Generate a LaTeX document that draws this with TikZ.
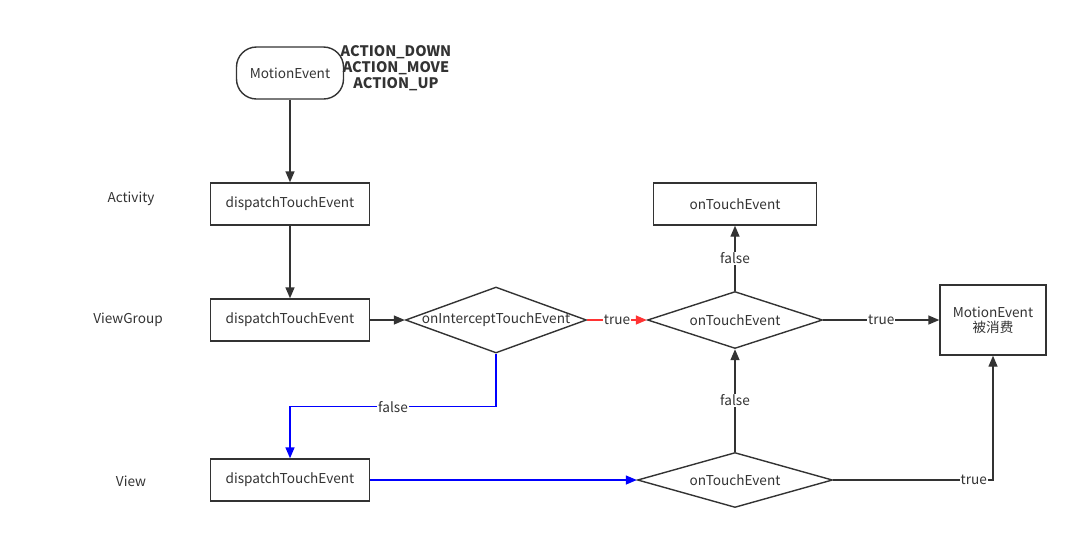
\documentclass[tikz,border=0pt]{standalone}
\usepackage{fontspec}
\setmainfont{Noto Sans CJK SC}
\usetikzlibrary{shapes.geometric,arrows.meta}
\definecolor{ink}{HTML}{333333}
\definecolor{hotred}{HTML}{FF3333}

\begin{document}
\begin{tikzpicture}[x=1pt, y=-1pt, >={Triangle[length=11pt,width=9pt]},
  color=ink, line width=1.4pt, font=\fontsize{13.6}{15}\selectfont,
  box/.style={draw, minimum width=159pt, minimum height=42pt, inner sep=0pt},
  dia/.style={draw, diamond, inner sep=0pt},
  flow/.style={->},
  lbl/.style={fill=white, inner sep=1pt, text=ink}]
  \useasboundingbox (0,0) rectangle (1078,539);
  % Event source
  \node[draw, rounded corners=20pt, minimum width=107pt, minimum height=52pt] (me) at (290,73) {MotionEvent};
  \node[font=\fontsize{14.5}{16}\selectfont\bfseries, align=center] (acts) at (396,68)
    {ACTION\_DOWN\\ACTION\_MOVE\\ACTION\_UP};
  % Layers
  \node (lact) at (131,199) {Activity};
  \node (lvg) at (128,320) {ViewGroup};
  \node (lview) at (131,481) {View};
  % dispatch column
  \node[box] (d1) at (290,204) {dispatchTouchEvent};
  \node[box] (d2) at (290,320) {dispatchTouchEvent};
  \node[box] (d3) at (290,480) {dispatchTouchEvent};
  % Decisions
  \node[dia, minimum width=181pt, minimum height=66pt, label=center:onInterceptTouchEvent] (icpt) at (496,320) {};
  \node[dia, minimum width=175pt, minimum height=57pt, label=center:onTouchEvent] (vgtouch) at (735,320) {};
  \node[dia, minimum width=195pt, minimum height=55pt, label=center:onTouchEvent] (vtouch) at (735,480) {};
  % Results
  \node[box, minimum width=163pt] (up) at (735,204) {onTouchEvent};
  \node[draw, minimum width=106pt, minimum height=70pt, align=center, inner sep=0pt] (done) at (993,320)
    {MotionEvent\\被消费};
  % Connectors
  \draw[flow] (me) -- (d1);
  \draw[flow] (d1) -- (d2);
  \draw[flow] (d2) -- (icpt);
  \draw[flow, hotred] (icpt) -- node[lbl] {true} (vgtouch);
  \draw[flow] (vgtouch) -- node[lbl] {false} (up);
  \draw[flow] (vgtouch) -- node[lbl] {true} (done);
  \draw[flow, blue] (icpt.south) -- ++(0,53) -| node[lbl, pos=0.25] {false} (d3.north);
  \draw[flow, blue] (d3) -- (vtouch);
  \draw[flow] (vtouch) -- node[lbl] {false} (vgtouch);
  \draw[flow] (vtouch.east) -| node[lbl, pos=0.44] {true} (done.south);
\end{tikzpicture}
\end{document}
